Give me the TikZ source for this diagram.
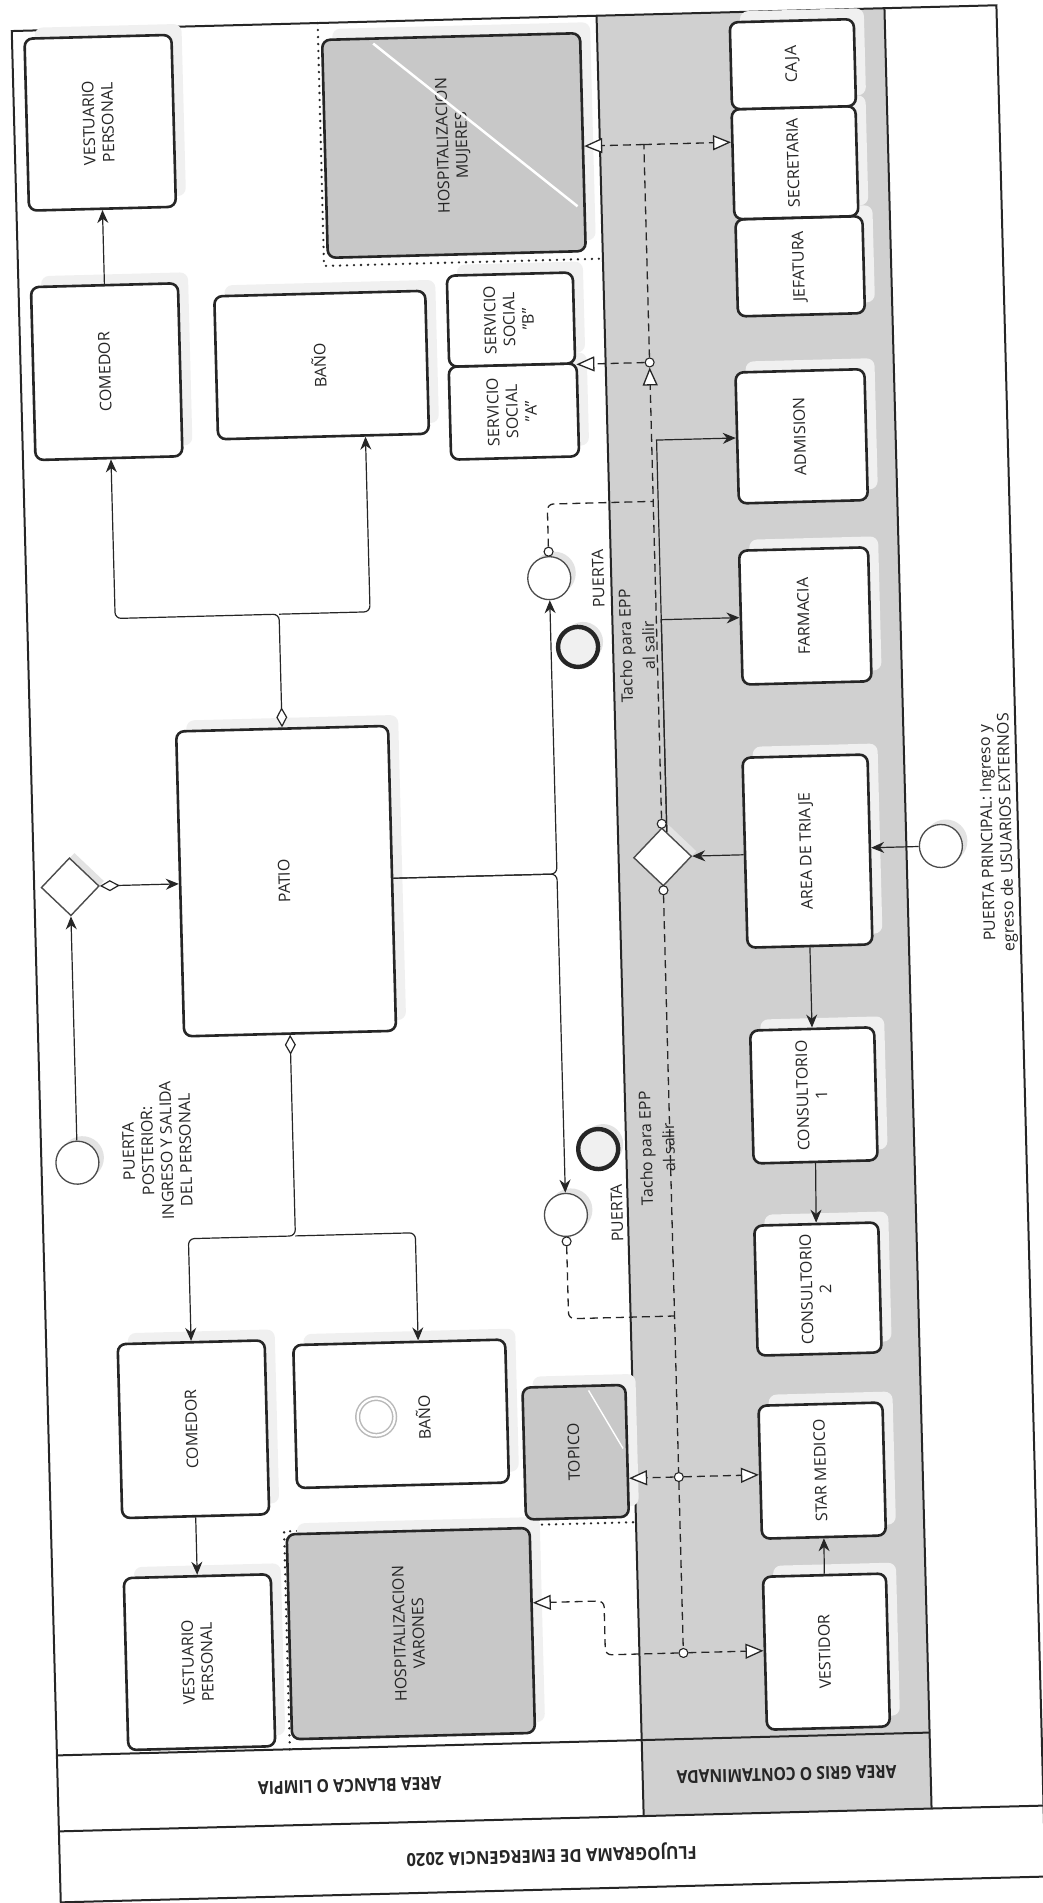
\documentclass[tikz,border=0pt]{standalone}
\usepackage{fontspec}
\setmainfont{Open Sans}
\usepackage{graphicx}
\usepackage{tikz}
\usetikzlibrary{arrows.meta,shapes.geometric,shadows}
\definecolor{ink}{HTML}{262626}
\definecolor{lane}{HTML}{D0D0D0}
\definecolor{boxgray}{HTML}{C8C8C8}
\definecolor{shade}{HTML}{F0F0F0}
\newcommand{\lbl}{\fontsize{16}{19}\selectfont}
\newcommand{\hdr}{\fontsize{18}{20}\selectfont\bfseries}
\newcommand{\vt}[1]{\rotatebox{90}{\begin{tabular}{@{}c@{}}#1\end{tabular}}}
\newcommand{\narrow}[2][0.87]{\scalebox{#1}[1]{#2}}

\begin{document}
\begin{tikzpicture}[x=1pt, y=-1pt,
  task/.style={rectangle, rounded corners=8pt, draw=ink, line width=2.6pt, fill=white, inner sep=0pt, font=\lbl, text=ink,
    drop shadow={shadow xshift=10pt, shadow yshift=11pt, fill=shade, opacity=1}},
  gtask/.style={task, fill=boxgray},
  event/.style={circle, draw=gray!60!black, line width=1.3pt, fill=white, minimum size=43pt, inner sep=0pt,
    drop shadow={shadow xshift=5pt, shadow yshift=5pt, fill=gray!22, opacity=1}},
  endevent/.style={event, draw=ink, line width=4.4pt, fill=gray!12, minimum size=40pt},
  gate/.style={diamond, draw=gray!60!black, line width=1.4pt, fill=white, minimum size=58pt, inner sep=0pt,
    drop shadow={shadow xshift=5pt, shadow yshift=5pt, fill=gray!22, opacity=1}},
  ring/.style={circle, draw=gray!55, line width=1.5pt, double=white, double distance=2.2pt, minimum size=37pt, inner sep=0pt},
  dot/.style={circle, draw=ink, line width=1.1pt, fill=white, minimum size=9pt, inner sep=0pt},
  note/.style={font=\lbl, text=ink, align=center, rotate=90},
  head/.style={font=\hdr, text=ink, rotate=180},
  flow/.style={draw=ink, line width=1.2pt, -{Stealth[length=13pt,width=11pt]}},
  cond/.style={flow, {Diamond[open,fill=white,length=20pt,width=11pt]}-{Stealth[length=13pt,width=11pt]}},
  msg/.style={draw=ink, line width=1.3pt, dash pattern=on 8pt off 5pt},
  mto/.style={msg, -{Triangle[open,fill=white,length=18pt,width=15pt]}},
  grp/.style={draw=ink, line width=2.6pt, line cap=round, dash pattern=on 0pt off 7pt},
  frame/.style={draw=ink, line width=2pt},
]
\fill[white] (0,0) rectangle (1043,1903);
\useasboundingbox (0,0) rectangle (1043,1903);
\begin{scope}[rotate around={1.5:(521,951)}, transform shape]
\fill[lane] (621,18) rectangle (909,1819);
\draw[frame] (36,18) rectangle (1021,1890);
\draw[frame] (621,18) -- (621,1819);
\draw[frame] (909,18) -- (909,1819);
\draw[frame] (36,1743) -- (909,1743);
\draw[frame] (36,1819) -- (1021,1819);
\draw[grp] (342,18) -- (342,261) -- (621,261);
\draw[grp] (269,1743) -- (269,1525) -- (621,1525);

\node[task, minimum width=147pt, minimum height=172pt] (vestA) at (122,112) {\vt{VESTUARIO\\PERSONAL}};
\node[task, minimum width=147pt, minimum height=173pt] (comA) at (122,361) {\vt{COMEDOR}};
\node[task, minimum width=211pt, minimum height=143pt] (banoA) at (337,360) {\vt{BAÑO}};
\node[gtask, minimum width=258pt, minimum height=218pt] (hospM) at (475,144) {\vt{HOSPITALIZACION\\MUJERES}};
\draw[white, line width=2.5pt] (397,40) -- (597,208);
\node[task, minimum width=128pt, minimum height=93pt] (servA) at (528,411.5) {\vt{SERVICIO\\SOCIAL\\"A"}};
\node[task, minimum width=126pt, minimum height=91pt] (servB) at (527.5,319.5) {\vt{SERVICIO\\SOCIAL\\"B"}};
\node[gate] (gwPost) at (72,875) {};
\node[event] (startPost) at (72,1151) {};
\node[note] (lblPost) at (152,1141) {PUERTA\\POSTERIOR:\\INGRESO Y SALIDA\\DEL PERSONAL};
\node[task, minimum width=212pt, minimum height=305pt] (patio) at (288,875) {\vt{PATIO}};
\node[event] (doorA) at (559,579) {};
\node[endevent] (endA) at (586,648.5) {};
\node[note] (lblDoorA) at (608,581) {PUERTA};
\node[note] (lblEndA) at (645,649) {Tacho para EPP\\[4pt]al salir};
\node[event] (doorB) at (559,1216) {};
\node[endevent] (endB) at (593,1151) {};
\node[note] (lblDoorB) at (610,1215.5) {PUERTA};
\node[note] (lblEndB) at (652,1151.5) {Tacho para EPP\\[4pt]al salir};
\node[task, minimum width=147pt, minimum height=174pt] (comB) at (181,1420.5) {\vt{COMEDOR}};
\node[task, minimum width=212pt, minimum height=143pt] (banoB) at (389,1410.5) {};
\node[ring] (evtBano) at (364,1413) {};
\node[note] (lblBanoB) at (411,1414.5) {BAÑO};
\node[task, minimum width=147pt, minimum height=172pt] (vestB) at (181,1653.5) {\vt{VESTUARIO\\PERSONAL}};
\node[gtask, minimum width=243pt, minimum height=205pt] (hospV) at (393,1630.5) {\vt{HOSPITALIZACION\\VARONES}};
\node[gtask, minimum width=103pt, minimum height=132pt] (topico) at (562.5,1453.5) {\vt{TOPICO}};
\draw[white, line width=1.4pt] (577,1392) -- (610,1451);

\node[task, minimum width=127pt, minimum height=97pt] (jefa) at (818,273.8) {\vt{JEFATURA}};
\node[task, minimum width=124pt, minimum height=110pt] (secre) at (815.5,170.1) {\vt{SECRETARIA}};
\node[task, minimum width=124pt, minimum height=87pt] (caja) at (816,71.6) {\vt{CAJA}};
\node[task, minimum width=129pt, minimum height=131pt] (admi) at (815,443.8) {\vt{ADMISION}};
\node[task, minimum width=129pt, minimum height=134pt] (farma) at (814,623.5) {\vt{FARMACIA}};
\node[task, minimum width=125pt, minimum height=190pt] (triaje) at (810,858.6) {\vt{AREA DE TRIAJE}};
\node[task, minimum width=124pt, minimum height=133pt] (consA) at (810,1103) {\vt{CONSULTORIO\\1}};
\node[task, minimum width=124pt, minimum height=130pt] (consB) at (809,1296.7) {\vt{CONSULTORIO\\2}};
\node[task, minimum width=124pt, minimum height=133pt] (star) at (808.5,1478.3) {\vt{STAR MEDICO}};
\node[task, minimum width=123pt, minimum height=153pt] (vestidor) at (808,1659.4) {\vt{VESTIDOR}};
\node[gate] (gwTri) at (665,860.7) {};
\node[event] (startMain) at (943.5,857) {};
\node[note] (lblMain) at (1001,845) {PUERTA PRINCIPAL: Ingreso y\\egreso de USUARIOS EXTERNOS};

\node[head] (laneW) at (328,1781) {\narrow{AREA BLANCA O LIMPIA}};
\node[head] (laneG) at (765,1781) {\narrow{AREA GRIS O CONTAMINADA}};
\node[head] (title) at (528,1855) {\narrow[0.92]{FLUJOGRAMA DE EMERGENCIA 2020}};

\draw[flow] (comA) -- (vestA);
\draw[flow] (startPost) -- (gwPost);
\draw[cond] (gwPost.east) -- (patio.west);
\coordinate (forkA) at (288,608);
\coordinate (forkB) at (288,1230);
\draw[cond, rounded corners=6pt] (patio.north) -- (forkA) -| ([xshift=2pt]comA.south);
\draw[flow, rounded corners=6pt] (forkA) -| ([xshift=42pt]banoA.south);
\draw[cond, rounded corners=6pt] (patio.south) -- (forkB) -| (comB.north);
\draw[flow, rounded corners=6pt] (forkB) -| ([xshift=19pt]banoB.north);
\draw[flow, rounded corners=6pt] (patio.east) -| (doorA.south);
\draw[flow, rounded corners=6pt] (patio.east) -| (doorB.north);
\draw[flow] (comB) -- (vestB);

\draw[flow] (startMain.west) -- (startMain.west -| triaje.east);
\draw[flow] (triaje.west |- gwTri) -- (gwTri.east);
\draw[flow] (triaje.south) -- (consA.north);
\draw[flow] (consA.south) -- (consB.north);
\draw[flow] (vestidor.north) -- (star.south);
\coordinate (gwUp) at ([xshift=5pt,yshift=-5pt]gwTri.north);
\draw[flow] (gwUp) |- (admi.west);
\draw[flow] (gwUp) |- (farma.west);

\node[dot] (cGwTop) at (665,827.5) {};
\node[dot] (cGwBot) at (665,894) {};
\node[dot] (cServ) at (665,366) {};
\node[dot] (cTopico) at (665,1481) {};
\node[dot] (cHospV) at (665,1657) {};
\node[dot] (cDoorA) at (559,552.5) {};
\node[dot] (cDoorB) at (559,1242.5) {};
\coordinate (jTop) at (665,148);
\coordinate (jDoorA) at (665,505);
\coordinate (jDoorB) at (665,1320);
\coordinate (kHospV) at (587,1603);
\draw[msg] (cServ) -- (jTop);
\draw[mto] (jTop) -- (jTop -| hospM.east);
\draw[mto] (jTop) -- (jTop -| secre.west);
\draw[mto] (cServ) -- (cServ -| servB.east);
\draw[mto] (cGwTop) -- (cServ);
\draw[msg] (cGwBot) -- (cTopico);
\draw[msg] (cTopico) -- (cHospV);
\draw[msg, rounded corners=6pt] (cDoorA) |- (jDoorA);
\draw[msg, rounded corners=6pt] (cDoorB) |- (jDoorB);
\draw[mto] (cTopico) -- (cTopico -| topico.east);
\draw[mto] (cTopico) -- (cTopico -| star.west);
\draw[mto, rounded corners=6pt] (cHospV) -| (kHospV) -- (kHospV -| hospV.east);
\draw[mto] (cHospV) -- (cHospV -| vestidor.west);
\end{scope}
\end{tikzpicture}
\end{document}
